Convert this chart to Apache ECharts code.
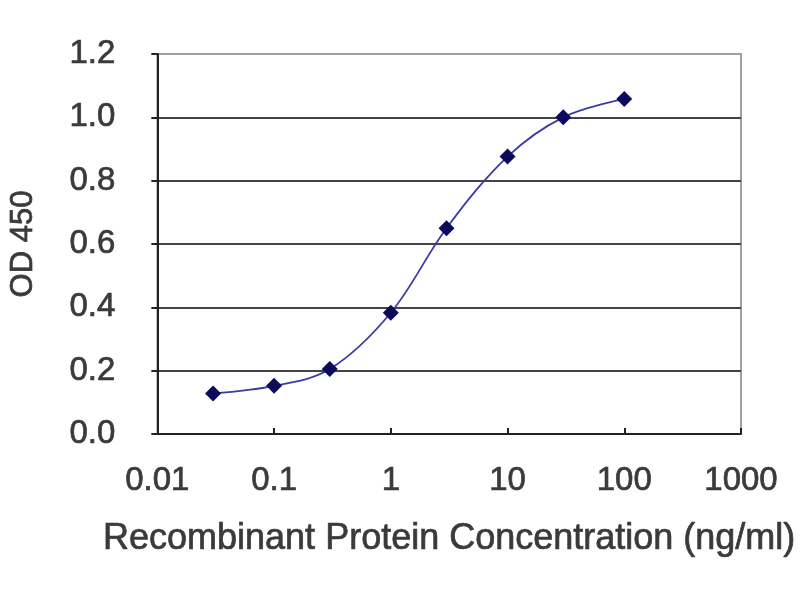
<!DOCTYPE html>
<html>
<head>
<meta charset="utf-8">
<script src="https://cdn.jsdelivr.net/npm/echarts@6/dist/echarts.min.js"></script>
<style>html,body{margin:0;padding:0;background:#fff}#c{width:800px;height:600px}</style>
</head>
<body>
<div id="c"></div>
<script>
const concentrations = [0.03, 0.1, 0.3, 1, 3, 10, 30, 100];
const od450 = [0.128, 0.152, 0.205, 0.383, 0.650, 0.876, 1.000, 1.058];
const xTickLabels = ['0.01', '0.1', '1', '10', '100', '1000'];
const yTickLabels = ['0.0', '0.2', '0.4', '0.6', '0.8', '1.0', '1.2'];
const xTitle = 'Recombinant Protein Concentration (ng/ml)';
const yTitle = 'OD 450';

const points = concentrations.map((c, i) => [c, od450[i]]);
const textColor = '#3a3a3a';
const font = 'Liberation Sans, Arial, sans-serif';
const thick = { textBorderColor: '#3a3a3a', textBorderWidth: 0.7 };

const chart = echarts.init(document.getElementById('c'));
chart.setOption({
  animation: false,
  backgroundColor: '#fff',
  grid: { left: 153, right: 59, top: 54, bottom: 166, show: true, borderColor: '#a0a0a0', borderWidth: 2 },
  xAxis: {
    type: 'log', logBase: 10, min: 0.01, max: 1000,
    name: xTitle, nameLocation: 'middle', nameGap: 87,
    nameTextStyle: Object.assign({ fontSize: 36, color: textColor, fontFamily: font }, thick),
    axisLine: { show: true, lineStyle: { color: '#222', width: 2 } },
    axisTick: { show: true, inside: true, length: 6, lineStyle: { color: '#222', width: 2 } },
    minorTick: { show: false },
    splitLine: { show: false },
    axisLabel: Object.assign({
      fontSize: 33, color: textColor, fontFamily: font, margin: 30,
      formatter: function (v) { return xTickLabels[Math.round(Math.log10(v)) + 2]; }
    }, thick)
  },
  yAxis: {
    type: 'value', min: 0, max: 1.2, interval: 0.2,
    name: yTitle, nameLocation: 'middle', nameGap: 118, nameRotate: 90,
    nameTextStyle: Object.assign({ fontSize: 31, color: textColor, fontFamily: font }, thick),
    axisLine: { show: true, lineStyle: { color: '#222', width: 2 } },
    axisTick: { show: true, inside: false, length: 6, lineStyle: { color: '#222', width: 2 } },
    splitLine: { show: true, lineStyle: { color: ['#444', '#444', '#444', '#444', '#444', '#444', '#a0a0a0'], width: 2 } },
    axisLabel: Object.assign({
      fontSize: 33, color: textColor, fontFamily: font, margin: 42,
      formatter: function (v) { return yTickLabels[Math.round(v / 0.2)]; }
    }, thick)
  },
  series: [{
    type: 'line',
    data: points,
    smooth: 0.35,
    symbol: 'diamond',
    symbolSize: 16,
    itemStyle: { color: '#0b0b5c' },
    lineStyle: { color: '#3c3ca0', width: 1.8 }
  }]
});
</script>
</body>
</html>
